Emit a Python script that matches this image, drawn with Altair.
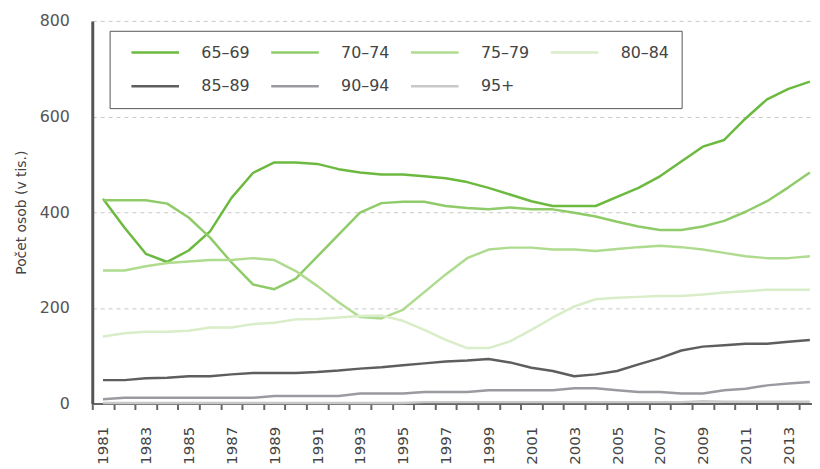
import altair as alt
import pandas as pd

years = [1981, 1982, 1983, 1984, 1985, 1986, 1987, 1988, 1989, 1990,
         1991, 1992, 1993, 1994, 1995, 1996, 1997, 1998, 1999, 2000,
         2001, 2002, 2003, 2004, 2005, 2006, 2007, 2008, 2009, 2010,
         2011, 2012, 2013, 2014]

groups = ["65–69", "70–74", "75–79", "80–84", "85–89", "90–94", "95+"]
colors = ["#6bba3f", "#8fcc69", "#afdb8e", "#d8edc8", "#5e5e5e", "#9a9ba0", "#c8c8c8"]

a65 = [428, 368, 313, 296, 320, 360, 430, 482, 504, 504,
       501, 490, 483, 479, 479, 475, 471, 463, 451, 437,
       423, 413, 413, 413, 432, 451, 475, 506, 537, 551,
       596, 636, 658, 673]
a70 = [425, 425, 425, 418, 389, 347, 295, 249, 239, 261,
       307, 353, 399, 419, 422, 422, 413, 409, 406, 410,
       406, 406, 399, 391, 380, 370, 363, 363, 370, 382,
       401, 423, 452, 483]
a75 = [278, 278, 287, 294, 297, 300, 300, 304, 300, 277,
       246, 212, 181, 178, 196, 233, 270, 304, 322, 326,
       326, 322, 322, 319, 323, 327, 330, 327, 322, 315,
       308, 304, 304, 308]
a80 = [140, 147, 150, 150, 152, 159, 159, 166, 169, 176,
       177, 180, 183, 184, 173, 154, 133, 116, 116, 130,
       154, 180, 203, 218, 221, 223, 225, 225, 228, 232,
       235, 238, 238, 238]
a85 = [49, 49, 53, 54, 57, 57, 61, 64, 64, 64,
       66, 69, 73, 76, 80, 84, 88, 90, 93, 86,
       75, 68, 57, 61, 68, 82, 95, 111, 119, 122,
       125, 125, 129, 133]
a90 = [9, 12, 12, 12, 12, 12, 12, 12, 16, 16,
       16, 16, 21, 21, 21, 24, 24, 24, 28, 28,
       28, 28, 32, 32, 28, 24, 24, 21, 21, 28,
       31, 38, 42, 45]
a95 = [1, 1, 1, 1, 1, 1, 1, 1, 1, 1,
       1, 1, 1, 1, 1, 3, 3, 3, 3, 3,
       3, 3, 3, 3, 3, 3, 3, 3, 5, 4,
       4, 4, 4, 4]

label_years = [1981, 1983, 1985, 1987, 1989, 1991, 1993, 1995, 1997, 1999,
               2001, 2003, 2005, 2007, 2009, 2011, 2013]
tick_positions = [1980.5, 1981.5, 1982.5, 1983.5, 1984.5, 1985.5, 1986.5, 1987.5,
                  1988.5, 1989.5, 1990.5, 1991.5, 1992.5, 1993.5, 1994.5, 1995.5,
                  1996.5, 1997.5, 1998.5, 1999.5, 2000.5, 2001.5, 2002.5, 2003.5,
                  2004.5, 2005.5, 2006.5, 2007.5, 2008.5, 2009.5, 2010.5, 2011.5,
                  2012.5, 2013.5]
y_ticks = [0, 200, 400, 600, 800]

series = [a65, a70, a75, a80, a85, a90, a95]
rows = []
for g, vals in zip(groups, series):
    for yr, v in zip(years, vals):
        rows.append({"year": yr, "value": v, "group": g})
df = pd.DataFrame(rows)

xscale = alt.Scale(domain=[1980.5, 2014.1], nice=False, zero=False)
yscale = alt.Scale(domain=[0, 800], nice=False)

y_axis = alt.Axis(values=y_ticks, grid=True, gridDash=[4, 4], gridColor="#c8c8c8",
                  gridWidth=1, ticks=False, domainColor="#555", domainWidth=3,
                  labelPadding=23, labelFontSize=16, labelColor="#555",
                  title="Počet osob (v tis.)", titleFontSize=14,
                  titleFontWeight="normal", titleColor="#444", titlePadding=11)

lines = alt.Chart(df).mark_line(strokeWidth=2.5, strokeJoin="round").encode(
    x=alt.X("year:Q", scale=xscale,
            axis=alt.Axis(values=label_years, format="d", orient="bottom",
                          labelAngle=-90, labelFontSize=15, labelColor="#444",
                          labelPadding=23, labelOverlap=False, labelFlush=False,
                          ticks=False, domainColor="#666", domainWidth=2,
                          grid=False, title=None)),
    y=alt.Y("value:Q", scale=yscale, axis=y_axis),
    color=alt.Color("group:N",
                    scale=alt.Scale(domain=groups, range=colors),
                    sort=groups,
                    legend=alt.Legend(title=None, orient="none", legendX=17.5, legendY=10,
                                      direction="horizontal",
                                      columns=4, symbolType="stroke", symbolSize=2304,
                                      symbolStrokeWidth=2.5, clipHeight=20,
                                      symbolOffset=8.5, labelOffset=21,
                                      rowPadding=14, columnPadding=11, padding=12,
                                      labelFontSize=16, labelColor="#444",
                                      strokeColor="#555"))
)

ticks_layer = alt.Chart(df).mark_line(strokeOpacity=0).encode(
    x=alt.X("year:Q", scale=xscale,
            axis=alt.Axis(values=tick_positions, orient="bottom", labels=False,
                          ticks=True, tickSize=6, tickWidth=2, tickColor="#666",
                          domain=False, grid=False, title=None)),
    y=alt.Y("value:Q", scale=yscale, axis=y_axis),
    detail="group:N"
)

chart = alt.layer(lines, ticks_layer).resolve_axis(x="independent", y="shared").properties(
    width=726, height=386,
    padding={"left": 6, "top": 3, "right": 0, "bottom": 0}
).configure(
    font="DejaVu Sans"
).configure_view(stroke=None)

chart.save("out.html", embed_options={"renderer": "svg", "actions": False})
